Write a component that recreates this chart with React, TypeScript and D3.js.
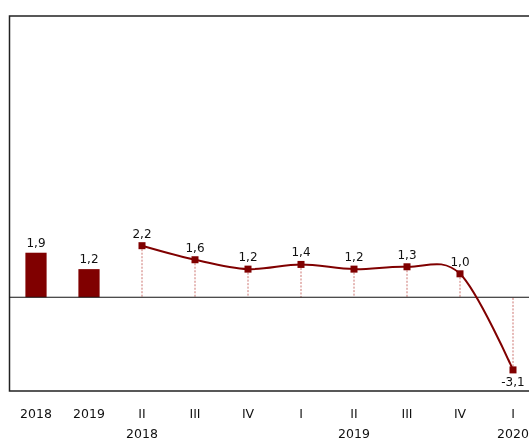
import React, { useRef, useEffect } from "react";
import * as d3 from "d3";

// annual growth, then quarterly growth
const annualLabels = ["2018", "2019"];
const annualValues = [1.9, 1.2];
const quarterLabels = ["II", "III", "IV", "I", "II", "III", "IV", "I"];
const quarterValues = [2.2, 1.6, 1.2, 1.4, 1.2, 1.3, 1.0, -3.1];
const yearLabels = [
  { at: 2, text: "2018" },
  { at: 6, text: "2019" },
  { at: 9, text: "2020" },
];

const width = 529;
const height = 440;
const font = "'DejaVu Sans', Verdana, sans-serif";
const dark = "#800000";

const fmt = (v: number) => v.toFixed(1).replace(".", ",");

export default function App() {
  const svgRef = useRef<SVGSVGElement>(null);

  useEffect(() => {
    const svg = d3.select(svgRef.current);
    svg.selectAll("*").remove();

    const labels = annualLabels.concat(quarterLabels);
    const x = d3
      .scaleBand<number>()
      .domain(d3.range(labels.length))
      .range([9.5, 539.5])
      .padding(0);
    const y = d3.scaleLinear().domain([-4, 12]).range([391, 16]);
    const cx = (i: number) => x(i)! + x.bandwidth() / 2;

    // frame
    svg
      .append("path")
      .attr("d", `M540,${y(12)}H9.5V${y(-4)}H540`)
      .attr("fill", "none")
      .attr("stroke", "#222")
      .attr("stroke-width", 1.5);

    // bars
    const barW = x.bandwidth() * 0.4;
    svg
      .selectAll(".bar")
      .data(annualValues)
      .join("rect")
      .attr("x", (d, i) => cx(i) - barW / 2)
      .attr("y", (d) => y(d))
      .attr("width", barW)
      .attr("height", (d) => y(0) - y(d))
      .attr("fill", dark);

    svg
      .selectAll(".barlab")
      .data(annualValues)
      .join("text")
      .attr("x", (d, i) => cx(i))
      .attr("y", (d) => y(d) - 6)
      .attr("text-anchor", "middle")
      .attr("font-family", font)
      .attr("font-size", 12)
      .attr("fill", "#111")
      .text((d) => fmt(d));

    const pts = quarterValues.map((v, i) => ({ i: i + 2, v }));

    // drop lines
    svg
      .selectAll(".drop")
      .data(pts)
      .join("line")
      .attr("x1", (d) => cx(d.i))
      .attr("x2", (d) => cx(d.i))
      .attr("y1", (d) => y(d.v))
      .attr("y2", y(0))
      .attr("stroke", "#c0504d")
      .attr("stroke-width", 0.8)
      .attr("stroke-dasharray", "2,1.5");

    // zero line
    svg
      .append("line")
      .attr("x1", 9.5)
      .attr("x2", 540)
      .attr("y1", y(0))
      .attr("y2", y(0))
      .attr("stroke", "#111")
      .attr("stroke-width", 1.2);

    const line = d3
      .line<{ i: number; v: number }>()
      .x((d) => cx(d.i))
      .y((d) => y(d.v))
      .curve(d3.curveCardinal.tension(0));

    svg
      .append("path")
      .datum(pts)
      .attr("fill", "none")
      .attr("stroke", dark)
      .attr("stroke-width", 2)
      .attr("d", line);

    svg
      .selectAll(".mk")
      .data(pts)
      .join("rect")
      .attr("x", (d) => cx(d.i) - 3.5)
      .attr("y", (d) => y(d.v) - 3.5)
      .attr("width", 7)
      .attr("height", 7)
      .attr("fill", dark);

    svg
      .selectAll(".ptlab")
      .data(pts)
      .join("text")
      .attr("x", (d) => cx(d.i))
      .attr("y", (d) => (d.v < 0 ? y(d.v) + 16 : y(d.v) - 8))
      .attr("text-anchor", "middle")
      .attr("font-family", font)
      .attr("font-size", 12)
      .attr("fill", "#111")
      .text((d) => fmt(d.v));

    // category labels
    svg
      .selectAll(".cat")
      .data(labels)
      .join("text")
      .attr("x", (d, i) => cx(i))
      .attr("y", 418)
      .attr("text-anchor", "middle")
      .attr("font-family", font)
      .attr("font-size", 12.5)
      .attr("fill", "#111")
      .text((d) => d);

    svg
      .selectAll(".yr")
      .data(yearLabels)
      .join("text")
      .attr("x", (d) => cx(d.at))
      .attr("y", 438)
      .attr("text-anchor", "middle")
      .attr("font-family", font)
      .attr("font-size", 12.5)
      .attr("fill", "#111")
      .text((d) => d.text);
  }, []);

  return (
    <div style={{ position: "fixed", left: 0, top: 0 }}>
      <svg ref={svgRef} width={width} height={height} style={{ display: "block" }} />
    </div>
  );
}
